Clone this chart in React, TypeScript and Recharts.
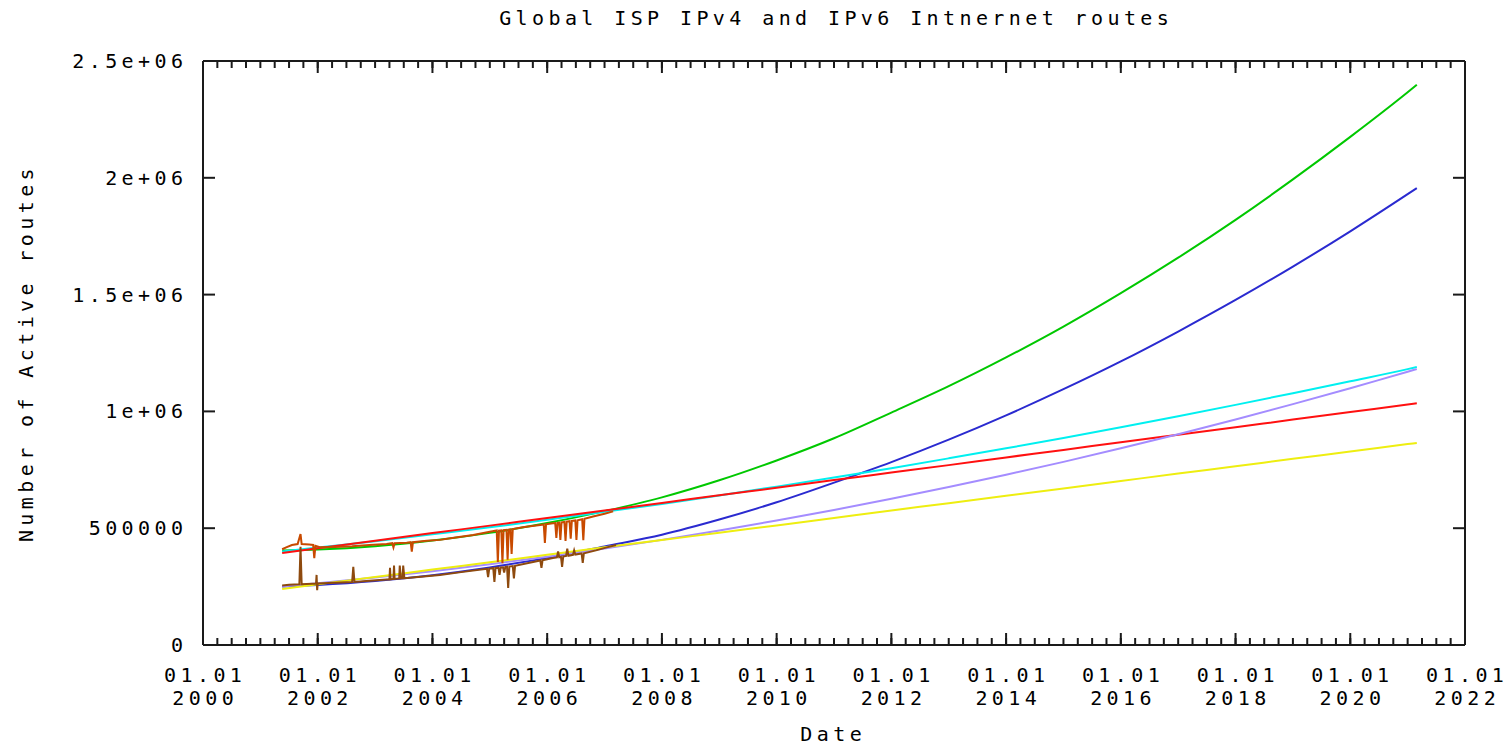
import React from 'react';
import { LineChart, Line, XAxis, YAxis, Label } from 'recharts';

const CHART_W = 1509;
const CHART_H = 746;
const FONT = '"DejaVu Sans Mono", "Liberation Mono", monospace';
const FS = 20;
const LS = 4.4;
const AXIS_COLOR = '#1a1a1a';

const titleText = 'Global ISP IPv4 and IPv6 Intnernet routes';
const xTitle = 'Date';
const yTitle = 'Number of Active routes';

// Projection curves (decimal year -> routes)
const fitYears = [2001.38, 2002, 2003, 2004, 2005, 2006, 2007, 2008, 2009, 2010, 2011, 2012, 2013, 2014, 2015, 2016, 2017, 2018, 2019, 2020, 2021, 2021.16];
const fitGreen = [405000, 409000, 423000, 447000, 480000, 522000, 573000, 632000, 705000, 790000, 885000, 995000, 1108000, 1231000, 1363000, 1506000, 1658000, 1820000, 1993000, 2175000, 2366000, 2398000];
const fitBlue = [250000, 257000, 274000, 299000, 332000, 373000, 422000, 472000, 537000, 611000, 695000, 783000, 879000, 983000, 1095000, 1214000, 1342000, 1477000, 1620000, 1771000, 1930000, 1956000];
const fitCyan = [400000, 417000, 444000, 474000, 504000, 536000, 570000, 604000, 640000, 678000, 717000, 757000, 799000, 842000, 886000, 932000, 979000, 1028000, 1078000, 1129000, 1181000, 1190000];
const fitLavender = [250000, 264000, 289000, 316000, 346000, 378000, 413000, 450000, 490000, 533000, 578000, 626000, 676000, 729000, 784000, 842000, 902000, 965000, 1031000, 1099000, 1170000, 1181000];
const fitRed = [394000, 414000, 446000, 479000, 511000, 544000, 576000, 608000, 641000, 673000, 706000, 738000, 770000, 803000, 835000, 868000, 900000, 932000, 965000, 997000, 1030000, 1035000];
const fitYellow = [240000, 260000, 291000, 323000, 354000, 386000, 418000, 449000, 481000, 512000, 544000, 576000, 607000, 639000, 670000, 702000, 734000, 765000, 797000, 828000, 860000, 865000];

// Measured routes, upper group
const upperDates = [2001.38, 2001.45, 2001.55, 2001.65, 2001.70, 2001.72, 2001.85, 2001.92, 2001.94, 2001.96, 2002.05, 2002.3, 2002.6, 2002.9, 2003.2, 2003.30, 2003.32, 2003.34, 2003.55, 2003.62, 2003.64, 2003.66, 2003.9, 2004.13, 2004.4, 2004.71, 2005.0, 2005.12, 2005.14, 2005.16, 2005.20, 2005.22, 2005.24, 2005.29, 2005.31, 2005.33, 2005.36, 2005.38, 2005.40, 2005.6, 2005.88, 2005.94, 2005.96, 2005.98, 2006.1, 2006.14, 2006.16, 2006.18, 2006.21, 2006.23, 2006.25, 2006.30, 2006.32, 2006.34, 2006.39, 2006.41, 2006.43, 2006.49, 2006.51, 2006.53, 2006.61, 2006.63, 2006.65, 2006.8, 2007.0, 2007.15];
const upperRoutes = [410000, 418000, 428000, 432000, 475000, 432000, 430000, 428000, 372000, 425000, 418000, 420000, 423000, 428000, 432000, 436000, 418000, 436000, 438000, 440000, 400000, 440000, 446000, 450000, 460000, 471000, 485000, 490000, 355000, 490000, 491000, 350000, 492000, 493000, 365000, 494000, 495000, 390000, 496000, 505000, 514000, 516000, 437000, 517000, 521000, 522000, 458000, 523000, 524000, 450000, 525000, 527000, 445000, 528000, 530000, 455000, 531000, 533000, 450000, 534000, 538000, 449000, 540000, 550000, 562000, 572000];

// Measured routes, lower group
const lowerDates = [2001.38, 2001.5, 2001.68, 2001.70, 2001.72, 2001.9, 2001.97, 2001.98, 2001.99, 2002.0, 2002.3, 2002.6, 2002.62, 2002.64, 2002.9, 2003.2, 2003.25, 2003.26, 2003.27, 2003.32, 2003.33, 2003.34, 2003.42, 2003.43, 2003.45, 2003.48, 2003.49, 2003.51, 2003.8, 2004.13, 2004.5, 2004.95, 2004.97, 2004.99, 2005.06, 2005.08, 2005.10, 2005.15, 2005.17, 2005.19, 2005.23, 2005.25, 2005.27, 2005.30, 2005.32, 2005.34, 2005.40, 2005.42, 2005.44, 2005.88, 2005.90, 2005.92, 2006.1, 2006.17, 2006.19, 2006.21, 2006.24, 2006.26, 2006.28, 2006.33, 2006.35, 2006.37, 2006.45, 2006.47, 2006.49, 2006.60, 2006.62, 2006.64, 2006.85, 2007.04, 2007.2];
const lowerRoutes = [255000, 258000, 260000, 420000, 260000, 262000, 262000, 300000, 235000, 263000, 267000, 270000, 335000, 270000, 275000, 280000, 281000, 330000, 281000, 283000, 340000, 283000, 285000, 340000, 285000, 286000, 340000, 286000, 292000, 300000, 312000, 326000, 291000, 327000, 329000, 270000, 330000, 331000, 300000, 332000, 333000, 310000, 334000, 335000, 244000, 336000, 338000, 285000, 339000, 362000, 330000, 363000, 372000, 375000, 400000, 376000, 378000, 334000, 379000, 381000, 412000, 382000, 386000, 405000, 387000, 392000, 351000, 393000, 405000, 418000, 428000];

const xDomain = [2000, 2022];
const yDomain = [0, 2500000];
const xMajorTicks = [2000, 2002, 2004, 2006, 2008, 2010, 2012, 2014, 2016, 2018, 2020, 2022];
const xMinorTicks = Array.from({ length: 89 }, (_, i) => 2000 + i * 0.25);
const yTicks = [0, 500000, 1000000, 1500000, 2000000, 2500000];
const yTickLabels = ['0', '500000', '1e+06', '1.5e+06', '2e+06', '2.5e+06'];

// corners of the frame, used only to give the frame axes a domain
const frameDates = [2000, 2022];
const frameRoutes = [0, 2500000];

const toPoints = (xs: number[], ys: number[]) => xs.map((t, i) => ({ t, v: ys[i] }));

const textStyle = { fontFamily: FONT, fontSize: FS, letterSpacing: LS, fill: '#000' } as const;

const XTick = (props: any) => {
  const { x, y, payload } = props;
  return (
    <text x={x} y={y} textAnchor="middle" style={textStyle}>
      <tspan x={x + LS / 2} dy={37}>01.01</tspan>
      <tspan x={x + LS / 2} dy={23}>{payload.value}</tspan>
    </text>
  );
};

const YTick = (props: any) => {
  const { x, y, payload } = props;
  const idx = yTicks.indexOf(payload.value);
  return (
    <text x={x + LS} y={y} dy={7} textAnchor="end" style={textStyle}>
      {idx >= 0 ? yTickLabels[idx] : ''}
    </text>
  );
};

const EmptyTick = () => <g />;

const XTitle = (props: any) => {
  const vb = props.viewBox;
  return (
    <text x={vb.x + vb.width / 2 + LS / 2 - 3} y={vb.y + 96} textAnchor="middle" style={textStyle}>
      {xTitle}
    </text>
  );
};

const YTitleLabel = (props: any) => {
  const vb = props.viewBox;
  const cx = vb.x + 8;
  const cy = vb.y + vb.height / 2;
  return (
    <text x={cx} y={cy} textAnchor="middle" dominantBaseline="central" transform={`rotate(-90 ${cx} ${cy})`} style={textStyle}>
      {yTitle}
    </text>
  );
};

const TopTitle = (props: any) => {
  const vb = props.viewBox;
  return (
    <text x={vb.x + vb.width / 2 + LS / 2} y={vb.y - 36} textAnchor="middle" style={textStyle}>
      {titleText}
    </text>
  );
};

const fits = [
  { key: 'green', ys: fitGreen, color: '#00c800' },
  { key: 'blue', ys: fitBlue, color: '#2a2ad0' },
  { key: 'cyan', ys: fitCyan, color: '#00f0f0' },
  { key: 'red', ys: fitRed, color: '#ff1010' },
  { key: 'lavender', ys: fitLavender, color: '#a48cff' },
  { key: 'yellow', ys: fitYellow, color: '#eeee10' },
];

const tickLineStyle = { stroke: AXIS_COLOR, strokeWidth: 2 };

const frameLines = [
  { x: 'xbM', y: 'ylM' },
  { x: 'xbm', y: 'yr' },
  { x: 'xtM', y: 'ylM' },
  { x: 'xtm', y: 'yr' },
];

export default function App() {
  return (
    <div style={{ position: 'absolute', left: 0, top: 0, width: CHART_W, height: CHART_H, background: '#fff' }}>
      <LineChart width={CHART_W} height={CHART_H} margin={{ top: 61, right: 44, bottom: 1, left: 18 }}>
        <XAxis
          xAxisId="x"
          dataKey="t"
          type="number"
          domain={xDomain}
          allowDataOverflow
          ticks={xMajorTicks}
          interval={0}
          height={100}
          tickLine={false}
          tickSize={0}
          tickMargin={0}
          axisLine={tickLineStyle}
          tick={<XTick />}
        >
          <Label content={<XTitle />} />
        </XAxis>
        <XAxis xAxisId="xbM" dataKey="t" type="number" domain={xDomain} allowDataOverflow ticks={xMajorTicks} interval={0} orientation="bottom" mirror height={1} tick={EmptyTick} tickSize={12} tickMargin={0} axisLine={false} tickLine={tickLineStyle} />
        <XAxis xAxisId="xbm" dataKey="t" type="number" domain={xDomain} allowDataOverflow ticks={xMinorTicks} interval={0} orientation="bottom" mirror height={1} tick={EmptyTick} tickSize={6} tickMargin={0} axisLine={false} tickLine={tickLineStyle} />
        <XAxis xAxisId="xtM" dataKey="t" type="number" domain={xDomain} allowDataOverflow ticks={xMajorTicks} interval={0} orientation="top" mirror height={1} tick={EmptyTick} tickSize={12} tickMargin={0} axisLine={tickLineStyle} tickLine={tickLineStyle}>
          <Label content={<TopTitle />} />
        </XAxis>
        <XAxis xAxisId="xtm" dataKey="t" type="number" domain={xDomain} allowDataOverflow ticks={xMinorTicks} interval={0} orientation="top" mirror height={1} tick={EmptyTick} tickSize={6} tickMargin={0} axisLine={false} tickLine={tickLineStyle} />
        <YAxis
          yAxisId="y"
          type="number"
          domain={yDomain}
          allowDataOverflow
          ticks={yTicks}
          interval={0}
          width={185}
          tickLine={false}
          tickSize={0}
          tickMargin={20}
          axisLine={tickLineStyle}
          tick={<YTick />}
        >
          <Label content={<YTitleLabel />} />
        </YAxis>
        <YAxis yAxisId="ylM" type="number" domain={yDomain} allowDataOverflow ticks={yTicks} interval={0} orientation="left" mirror width={1} tick={EmptyTick} tickSize={12} tickMargin={0} axisLine={false} tickLine={tickLineStyle} />
        <YAxis yAxisId="yr" type="number" domain={yDomain} allowDataOverflow ticks={yTicks} interval={0} orientation="right" mirror width={1} tick={EmptyTick} tickSize={12} tickMargin={0} axisLine={tickLineStyle} tickLine={tickLineStyle} />
        {frameLines.map((f) => (
          <Line
            key={`frame-${f.x}-${f.y}`}
            xAxisId={f.x}
            yAxisId={f.y}
            data={toPoints(frameDates, frameRoutes)}
            dataKey="v"
            stroke="none"
            strokeWidth={0}
            dot={false}
            activeDot={false}
            isAnimationActive={false}
          />
        ))}
        {fits.map((f) => (
          <Line
            key={f.key}
            xAxisId="x"
            yAxisId="y"
            data={toPoints(fitYears, f.ys)}
            dataKey="v"
            type="monotone"
            stroke={f.color}
            strokeWidth={2}
            dot={false}
            activeDot={false}
            isAnimationActive={false}
          />
        ))}
        <Line xAxisId="x" yAxisId="y" data={toPoints(upperDates, upperRoutes)} dataKey="v" type="linear" stroke="#c84a00" strokeWidth={2} dot={false} activeDot={false} isAnimationActive={false} />
        <Line xAxisId="x" yAxisId="y" data={toPoints(lowerDates, lowerRoutes)} dataKey="v" type="linear" stroke="#8e4a0e" strokeWidth={2} dot={false} activeDot={false} isAnimationActive={false} />
      </LineChart>
    </div>
  );
}
